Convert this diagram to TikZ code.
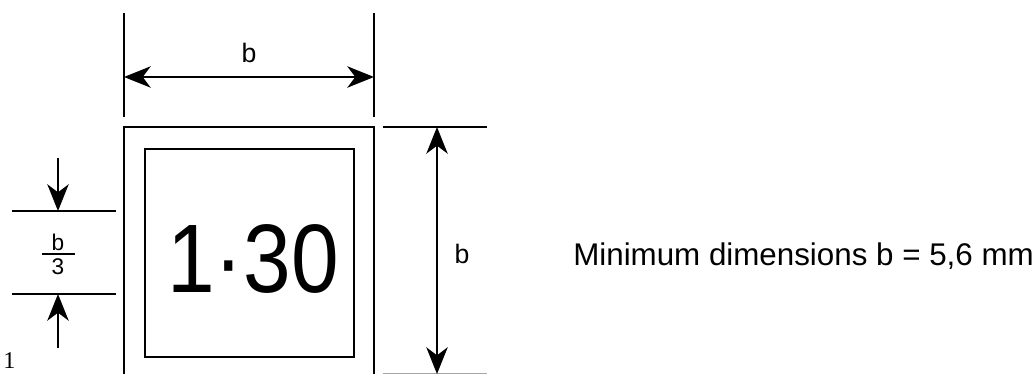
\documentclass[tikz,border=0pt]{standalone}
\usepackage{fontspec}
\usepackage{graphicx}
\setmainfont{Liberation Sans}
\newfontfamily\labelserif{Liberation Serif}
\usetikzlibrary{arrows.meta}

\tikzset{
  dimline/.style={line width=1.8pt, {Stealth[length=20pt,width=16pt,inset=6pt]}-{Stealth[length=20pt,width=16pt,inset=6pt]}},
  pointer/.style={line width=1.8pt, -{Stealth[length=20pt,width=16pt,inset=6pt]}},
  extline/.style={line width=1.8pt},
  frameline/.style={line width=2.1pt},
  dimlabel/.style={inner sep=0pt, anchor=base, font=\fontsize{20}{22}\selectfont},
  fraclabel/.style={inner sep=0pt, anchor=base, font=\fontsize{17}{19}\selectfont}
}

\begin{document}
\begin{tikzpicture}[x=0.75pt,y=0.75pt,yscale=-1,xscale=1]
\useasboundingbox (0,0) rectangle (1035,374);

%Coordinates
\coordinate (tl) at (124,127);
\coordinate (tr) at (374,127);
\coordinate (bl) at (124,380);
\coordinate (br) at (374,380);
\coordinate (lupTop) at (124,13);
\coordinate (lupBot) at (124,117);
\coordinate (rupTop) at (374,13);
\coordinate (rupBot) at (374,117);
\coordinate (wL) at (124,77);
\coordinate (wR) at (374,77);
\coordinate (hTopA) at (383,127);
\coordinate (hTopB) at (487,127);
\coordinate (hBotA) at (383,374.5);
\coordinate (hBotB) at (487,374.5);
\coordinate (hUp) at (437,127);
\coordinate (hDown) at (437,374);
\coordinate (sTopA) at (12,211);
\coordinate (sTopB) at (116,211);
\coordinate (sBotA) at (12,294);
\coordinate (sBotB) at (116,294);
\coordinate (sArrTop) at (58,158);
\coordinate (sArrTopEnd) at (58,211);
\coordinate (sArrBot) at (58,348);
\coordinate (sArrBotEnd) at (58,294);
\coordinate (barL) at (42,254);
\coordinate (barR) at (75,254);

%Shape: Outer square (bottom cut off)
\draw [frameline] (bl) -- (tl) -- (tr) -- (br) ;
%Shape: Inner square
\draw [frameline] (145,149) rectangle (354,357) ;

%Straight Lines: width
\draw [extline] (lupTop) -- (lupBot) ;
\draw [extline] (rupTop) -- (rupBot) ;
\draw [dimline] (wL) -- (wR) ;

%Straight Lines: height
\draw [extline] (hTopA) -- (hTopB) ;
\draw [extline, black!35] (hBotA) -- (hBotB) ;
\draw [dimline] (hUp) -- (hDown) ;

%Straight Lines: b/3
\draw [extline] (sTopA) -- (sTopB) ;
\draw [extline] (sBotA) -- (sBotB) ;
\draw [pointer] (sArrTop) -- (sArrTopEnd) ;
\draw [pointer] (sArrBot) -- (sArrBotEnd) ;
\draw [line width=1.8pt] (barL) -- (barR) ;

% Text Node
\node (num) [inner sep=0pt, anchor=base] at (253,292) {\scalebox{0.88}[1]{\fontsize{73}{76}\selectfont 1·30}};
% Text Node
\node (wlab) [dimlabel] at (249,63) {b};
% Text Node
\node (hlab) [dimlabel] at (462,263) {b};
% Text Node
\node (fnum) [fraclabel] at (58,250) {b};
% Text Node
\node (fden) [fraclabel] at (58,274) {3};
% Text Node
\node (note) [inner sep=0pt, anchor=base west] at (573,265) {\fontsize{23.5}{26}\selectfont Minimum dimensions b = 5,6 mm};
% Text Node
\node (fig) [inner sep=0pt, anchor=base west] at (3,368) {\labelserif\fontsize{18}{20}\selectfont 1};

\end{tikzpicture}
\end{document}
